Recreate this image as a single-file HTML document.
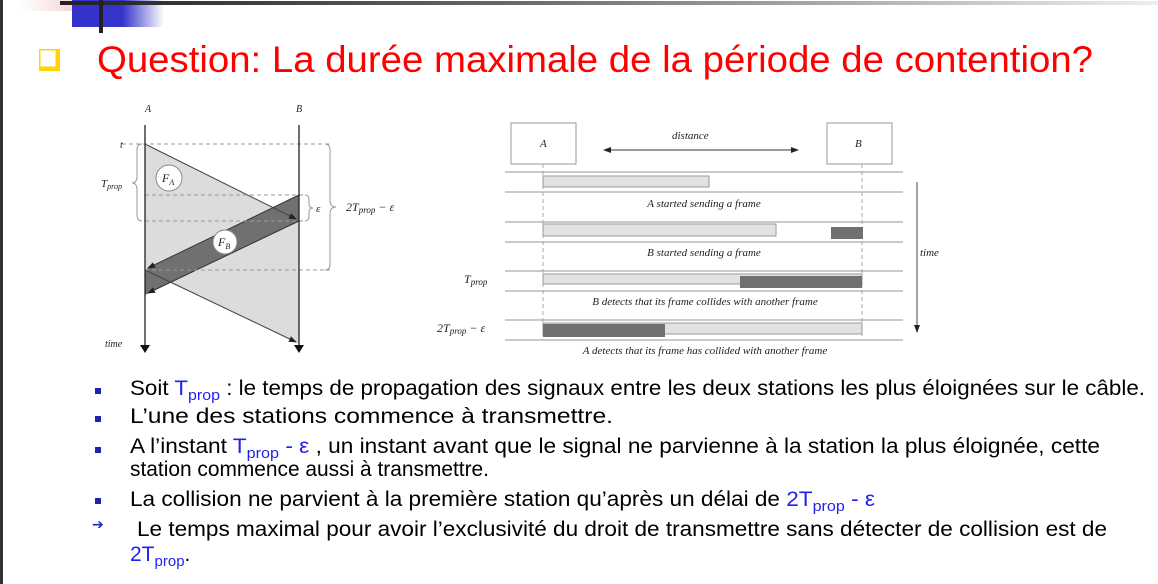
<!DOCTYPE html>
<html><head><meta charset="utf-8"><style>
html,body{margin:0;padding:0;background:#fff;}
svg{display:block;}
</style></head><body>
<svg width="1158" height="584" viewBox="0 0 1158 584" xmlns="http://www.w3.org/2000/svg">
<defs>
<linearGradient id="tl" x1="0" x2="1"><stop offset="0" stop-color="#222"/><stop offset="0.4" stop-color="#666"/><stop offset="1" stop-color="#eee"/></linearGradient>
<linearGradient id="bl" x1="0" x2="1"><stop offset="0" stop-color="#3333cc"/><stop offset="0.55" stop-color="#3535cc"/><stop offset="1" stop-color="#fff"/></linearGradient>
<linearGradient id="pk" x1="0" x2="1"><stop offset="0" stop-color="#fff"/><stop offset="1" stop-color="#f5c8c8"/></linearGradient>
<marker id="ah" markerWidth="8" markerHeight="8" refX="7" refY="4" orient="auto" markerUnits="userSpaceOnUse"><path d="M0,1 L8,4 L0,7 z" fill="#222"/></marker>
<marker id="ah2" markerWidth="8" markerHeight="10" refX="7" refY="5" orient="auto" markerUnits="userSpaceOnUse"><path d="M0,0 L8,5 L0,10 z" fill="#111"/></marker>
</defs>
<rect x="0" y="0" width="3" height="584" fill="#333"/>
<rect x="20" y="0" width="72" height="11" fill="url(#pk)"/>
<rect x="72" y="0" width="92" height="27" fill="url(#bl)"/>
<rect x="60" y="1" width="1098" height="4" fill="url(#tl)"/>
<rect x="99" y="0" width="4" height="33" fill="#222"/>
<!-- title -->
<rect x="39" y="49" width="21" height="22" fill="#ffd400"/>
<rect x="40" y="50" width="16" height="17" fill="#fff" stroke="#ffd400" stroke-width="1"/>
<text x="97" y="72" font-family="Liberation Sans, sans-serif" font-size="37" fill="#ff0000" textLength="996" lengthAdjust="spacingAndGlyphs">Question: La durée maximale de la période de contention?</text>

<!-- left diagram -->
<g font-family="Liberation Serif, serif" font-style="italic" fill="#222">
<polygon points="145,144 299,221 299,344 145,270" fill="#dcdcdc"/>
<polygon points="299,195 145,270 145,295 299,221" fill="#707070"/>
<line x1="145" y1="144" x2="296" y2="219" stroke="#444" stroke-width="1" marker-end="url(#ah)"/>
<line x1="145" y1="270" x2="296" y2="342" stroke="#444" stroke-width="1" marker-end="url(#ah)"/>
<line x1="299" y1="195" x2="148" y2="268" stroke="#333" stroke-width="1" marker-end="url(#ah)"/>
<line x1="299" y1="221" x2="148" y2="293" stroke="#333" stroke-width="1" marker-end="url(#ah)"/>
<g stroke="#999" stroke-dasharray="4,3" stroke-width="1">
<line x1="122" y1="144" x2="330" y2="144"/>
<line x1="145" y1="195" x2="305" y2="195"/>
<line x1="145" y1="221" x2="305" y2="221"/>
<line x1="145" y1="270" x2="330" y2="270"/>
</g>
<line x1="145" y1="125" x2="145" y2="352" stroke="#222" stroke-width="1.3" marker-end="url(#ah2)"/>
<line x1="299" y1="125" x2="299" y2="352" stroke="#222" stroke-width="1.3" marker-end="url(#ah2)"/>
<g fill="none" stroke="#999" stroke-width="1">
<path d="M142,144 Q137,144 137,150 L137,176 Q137,183 132,183 Q137,183 137,190 L137,215 Q137,221 142,221"/>
<path d="M305,195 Q309,195 309,200 L309,204 Q309,208 313,208 Q309,208 309,212 L309,216 Q309,221 305,221"/>
<path d="M325,144 Q330,144 330,150 L330,200 Q330,207 336,207 Q330,207 330,214 L330,264 Q330,270 325,270"/>
</g>
<circle cx="169" cy="178" r="13" fill="#fff" stroke="#888"/>
<text x="162" y="182" font-size="12">F<tspan font-size="8" dy="3">A</tspan></text>
<circle cx="225" cy="242" r="12" fill="#fff" stroke="#888"/>
<text x="218" y="246" font-size="12">F<tspan font-size="8" dy="3">B</tspan></text>
<text x="145" y="112" font-size="10">A</text>
<text x="296" y="112" font-size="10">B</text>
<text x="120" y="148" font-size="10">t</text>
<text x="101" y="187" font-size="11">T<tspan font-size="8" dy="2">prop</tspan></text>
<text x="316" y="212" font-size="11">ε</text>
<text x="346" y="211" font-size="12">2T<tspan font-size="9" dy="2">prop</tspan><tspan dy="-2"> − ε</tspan></text>
<text x="105" y="347" font-size="10">time</text>
</g>

<!-- right diagram -->
<g font-family="Liberation Serif, serif" font-style="italic" fill="#222" font-size="11">
<rect x="511" y="123" width="65" height="41" fill="#fff" stroke="#999"/>
<rect x="827" y="123" width="65" height="41" fill="#fff" stroke="#999"/>
<text x="540" y="147">A</text>
<text x="855" y="147">B</text>
<text x="672" y="139">distance</text>
<line x1="640" y1="150" x2="604" y2="150" stroke="#333" marker-end="url(#ah)"/>
<line x1="640" y1="150" x2="798" y2="150" stroke="#333" marker-end="url(#ah)"/>
<g stroke="#aaa" stroke-dasharray="4,3"><line x1="543" y1="164" x2="543" y2="340"/><line x1="862" y1="164" x2="862" y2="340"/></g>
<g stroke="#aaa" stroke-width="1.3">
<line x1="505" y1="172" x2="903" y2="172"/><line x1="505" y1="192" x2="903" y2="192"/>
<line x1="505" y1="222" x2="903" y2="222"/><line x1="505" y1="242" x2="903" y2="242"/>
<line x1="505" y1="271" x2="903" y2="271"/><line x1="505" y1="291" x2="903" y2="291"/>
<line x1="505" y1="320" x2="903" y2="320"/><line x1="505" y1="340" x2="903" y2="340"/>
</g>
<rect x="543" y="176" width="166" height="11" fill="#e2e2e2" stroke="#999"/>
<rect x="543" y="224" width="233" height="12" fill="#e2e2e2" stroke="#999"/>
<rect x="831" y="227" width="32" height="12" fill="#707070"/>
<rect x="543" y="274" width="319" height="10" fill="#e2e2e2" stroke="#999"/>
<rect x="740" y="276" width="122" height="12" fill="#707070"/>
<rect x="543" y="323" width="319" height="11" fill="#e2e2e2" stroke="#999"/>
<rect x="543" y="324" width="122" height="13" fill="#707070"/>
<text x="704" y="207" text-anchor="middle">A started sending a frame</text>
<text x="704" y="256" text-anchor="middle">B started sending a frame</text>
<text x="705" y="305" text-anchor="middle">B detects that its frame collides with another frame</text>
<text x="705" y="354" text-anchor="middle">A detects that its frame has collided with another frame</text>
<line x1="917" y1="182" x2="917" y2="332" stroke="#444" marker-end="url(#ah)"/>
<text x="920" y="256">time</text>
<text x="464" y="283" font-size="12">T<tspan font-size="9" dy="2">prop</tspan></text>
<text x="437" y="332" font-size="12">2T<tspan font-size="9" dy="2">prop</tspan><tspan dy="-2"> − ε</tspan></text>
</g>

<!-- bullets -->
<g fill="#2222aa">
<rect x="95" y="388" width="6" height="6"/>
<rect x="95" y="416" width="6" height="6"/>
<rect x="95" y="447" width="6" height="6"/>
<rect x="95" y="498" width="6" height="6"/>
</g>
<text x="92" y="529" font-family="DejaVu Sans, sans-serif" font-size="14" fill="#2222cc">➔</text>
<g font-family="Liberation Sans, sans-serif" font-size="21" fill="#000">
<text x="130" y="395" textLength="1015" lengthAdjust="spacingAndGlyphs">Soit <tspan fill="#2222ee">T<tspan font-size="15" dy="5">prop</tspan></tspan><tspan dy="-5"> : le temps de propagation des signaux entre les deux stations les plus éloignées sur le câble.</tspan></text>
<text x="130" y="423" textLength="483" lengthAdjust="spacingAndGlyphs">L’une des stations commence à transmettre.</text>
<text x="130" y="453" textLength="970" lengthAdjust="spacingAndGlyphs">A l’instant <tspan fill="#2222ee">T<tspan font-size="15" dy="5">prop</tspan><tspan dy="-5"> - ε</tspan></tspan> , un instant avant que le signal ne parvienne à la station la plus éloignée, cette</text>
<text x="130" y="476" textLength="359" lengthAdjust="spacingAndGlyphs">station commence aussi à transmettre.</text>
<text x="130" y="506" textLength="745" lengthAdjust="spacingAndGlyphs">La collision ne parvient à la première station qu’après un délai de <tspan fill="#2222ee">2T<tspan font-size="15" dy="5">prop</tspan><tspan dy="-5"> - ε</tspan></tspan></text>
<text x="137" y="536" textLength="970" lengthAdjust="spacingAndGlyphs">Le temps maximal pour avoir l’exclusivité du droit de transmettre sans détecter de collision est de</text>
<text x="130" y="561"><tspan fill="#2222ee">2T<tspan font-size="15" dy="5">prop</tspan></tspan><tspan dy="-5">.</tspan></text>
</g>
</svg>
</body></html>
